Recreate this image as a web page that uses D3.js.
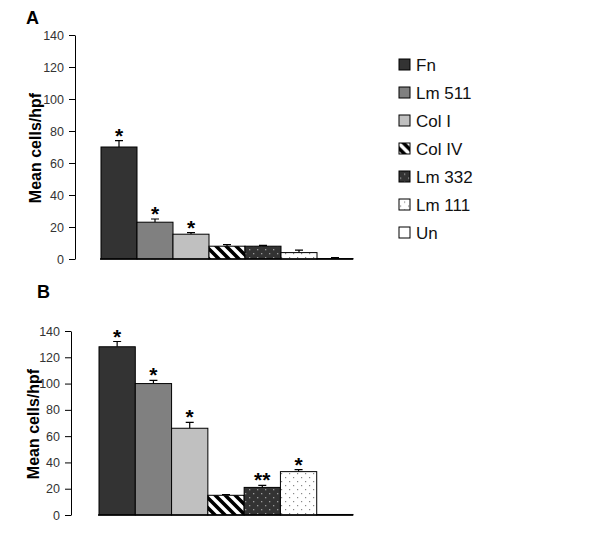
<!DOCTYPE html>
<html>
<head>
<meta charset="utf-8">
<script src="https://cdn.jsdelivr.net/npm/d3@7"></script>
<style>
body { margin: 0; background: #fff; }
text { font-family: "Liberation Sans", Arial, sans-serif; }
</style>
</head>
<body>
<script>
// data
var categories = ["Fn", "Lm 511", "Col I", "Col IV", "Lm 332", "Lm 111", "Un"];
var valuesA = [70, 23, 15.5, 8, 8, 4, 0.3];
var errA    = [4, 2, 1, 1, 0.5, 1.5, 0.5];
var starsA  = ["*", "*", "*", "", "", "", ""];
var valuesB = [128, 100, 66, 15, 21, 33, 0.4];
var errB    = [4, 2.5, 4.5, 0.6, 1.5, 1.5, 0];
var starsB  = ["*", "*", "*", "", "**", "*", ""];
var yTicks  = [0, 20, 40, 60, 80, 100, 120, 140];

var fills = ["#333333", "#808080", "#c0c0c0", "url(#stripes)", "url(#darkdots)", "url(#lightdots)", "#ffffff"];

var svg = d3.select("body").append("svg")
    .attr("width", 600)
    .attr("height", 545);

var defs = svg.append("defs");

var stripes = defs.append("pattern")
    .attr("id", "stripes")
    .attr("patternUnits", "userSpaceOnUse")
    .attr("width", 10).attr("height", 10);
stripes.append("rect").attr("width", 10).attr("height", 10).attr("fill", "#fff");
stripes.append("path")
    .attr("d", "M-5,5 L5,15 M0,0 L10,10 M5,-5 L15,5")
    .attr("stroke", "#000")
    .attr("stroke-width", 3.6);

var dd = defs.append("pattern")
    .attr("id", "darkdots")
    .attr("patternUnits", "userSpaceOnUse")
    .attr("width", 8).attr("height", 8);
dd.append("rect").attr("width", 8).attr("height", 8).attr("fill", "#333");
dd.append("rect").attr("x", 1).attr("y", 1).attr("width", 1.3).attr("height", 1.3).attr("fill", "#9a9a9a");
dd.append("rect").attr("x", 5).attr("y", 5).attr("width", 1.3).attr("height", 1.3).attr("fill", "#9a9a9a");

var ld = defs.append("pattern")
    .attr("id", "lightdots")
    .attr("patternUnits", "userSpaceOnUse")
    .attr("width", 8).attr("height", 8);
ld.append("rect").attr("width", 8).attr("height", 8).attr("fill", "#fff");
ld.append("rect").attr("x", 1).attr("y", 1).attr("width", 1.2).attr("height", 1.2).attr("fill", "#888");
ld.append("rect").attr("x", 5).attr("y", 5).attr("width", 1.2).attr("height", 1.2).attr("fill", "#888");

function panel(cfg) {
  var y = d3.scaleLinear().domain([0, 140]).range([cfg.y0, cfg.y140]);
  var x = d3.scaleBand().domain(categories).range([cfg.xb0, cfg.xb1]).padding(0);

  var g = svg.append("g");

  var yAxis = d3.axisLeft(y).tickValues(yTicks).tickSize(6).tickPadding(5).tickSizeOuter(0);
  var ax = g.append("g")
      .attr("transform", "translate(" + cfg.ax + ",0)")
      .call(yAxis);
  ax.select(".domain").attr("stroke", "#000");
  ax.selectAll(".tick line").attr("stroke", "#000");
  ax.selectAll(".tick text")
      .attr("fill", "#333")
      .style("font-size", "12.5px")
      .style("font-family", "'Liberation Sans', Arial, sans-serif");

  var data = categories.map(function (c, i) {
    return { c: c, v: cfg.vals[i], e: cfg.errs[i], s: cfg.stars[i], f: fills[i] };
  });

  // error bars (upper only)
  g.selectAll(".err").data(data.filter(function (d) { return d.e > 0; })).enter()
    .append("path")
      .attr("d", function (d) {
        var cx = x(d.c) + x.bandwidth() / 2;
        return "M" + cx + "," + y(d.v) + "V" + y(d.v + d.e) +
               "M" + (cx - 4) + "," + y(d.v + d.e) + "H" + (cx + 4);
      })
      .attr("stroke", "#000")
      .attr("stroke-width", 1.2)
      .attr("fill", "none");

  g.selectAll(".bar").data(data).enter()
    .append("rect")
      .attr("x", function (d) { return x(d.c); })
      .attr("y", function (d) { return y(d.v); })
      .attr("width", x.bandwidth())
      .attr("height", function (d) { return y(0) - y(d.v); })
      .attr("fill", function (d) { return d.f; })
      .attr("stroke", "#000")
      .attr("stroke-width", 1);

  g.selectAll(".star").data(data.filter(function (d) { return d.s; })).enter()
    .append("text")
      .attr("x", function (d) { return x(d.c) + x.bandwidth() / 2; })
      .attr("y", function (d) { return y(d.v + d.e) + 2; })
      .attr("text-anchor", "middle")
      .style("font-size", "21px")
      .style("font-weight", "bold")
      .text(function (d) { return d.s; });

  // baseline
  g.append("line")
      .attr("x1", cfg.xb0 - 1).attr("x2", cfg.xb1)
      .attr("y1", y(0)).attr("y2", y(0))
      .attr("stroke", "#000").attr("stroke-width", 1.3);

  g.append("text")
      .attr("transform", "translate(" + cfg.lx + "," + ((cfg.y0 + cfg.y140) / 2 + 1) + ") rotate(-90)")
      .attr("text-anchor", "middle")
      .style("font-size", "16px")
      .style("font-weight", "bold")
      .text("Mean cells/hpf");

  g.append("text")
      .attr("x", cfg.tx).attr("y", cfg.ty)
      .style("font-size", "18px")
      .style("font-weight", "bold")
      .text(cfg.title);
}

panel({ title: "A", tx: 26, ty: 24, ax: 75, y0: 259, y140: 35, xb0: 101, xb1: 353,
        lx: 41, vals: valuesA, errs: errA, stars: starsA });
panel({ title: "B", tx: 37, ty: 298, ax: 71, y0: 515, y140: 331, xb0: 99, xb1: 353,
        lx: 39, vals: valuesB, errs: errB, stars: starsB });

// legend
var leg = svg.append("g").selectAll("g").data(categories).enter()
  .append("g")
    .attr("transform", function (d, i) { return "translate(399," + (64.5 + i * 28) + ")"; });
leg.append("rect")
    .attr("x", 0).attr("y", -5.5)
    .attr("width", 11).attr("height", 11)
    .attr("fill", function (d, i) { return fills[i]; })
    .attr("stroke", "#000")
    .attr("stroke-width", 1);
leg.append("text")
    .attr("x", 17).attr("y", 6)
    .style("font-size", "17px")
    .attr("fill", "#111")
    .text(function (d) { return d; });
</script>
</body>
</html>
